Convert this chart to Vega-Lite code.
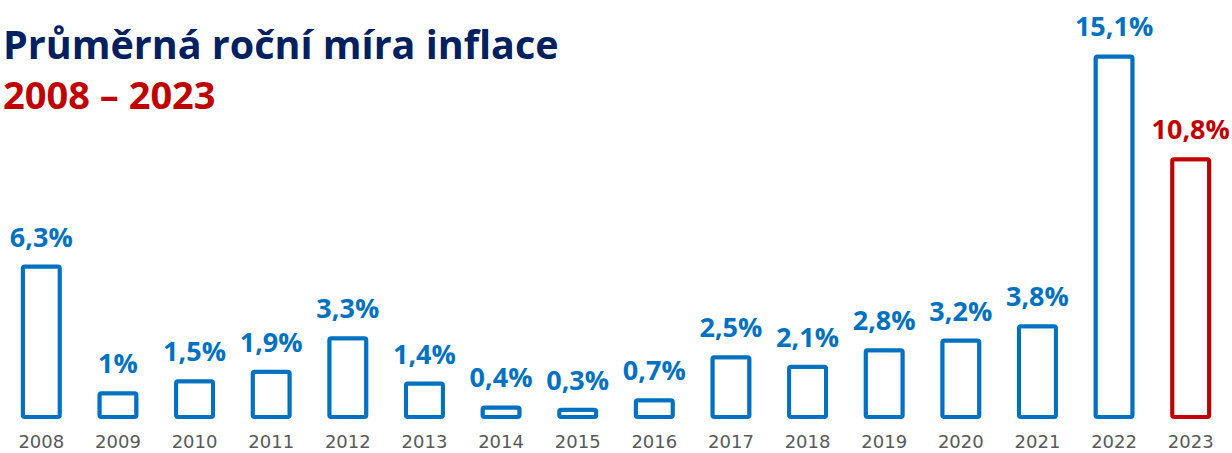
{
  "$schema": "https://vega.github.io/schema/vega-lite/v6.json",
  "width": 1226,
  "height": 382,
  "autosize": {"type": "none"},
  "padding": {"top": 35, "left": 3, "right": 3, "bottom": 36},
  "background": "white",
  "title": {
    "text": "Průměrná roční míra inflace",
    "subtitle": "2008 – 2023",
    "anchor": "start",
    "frame": "group",
    "offset": -104,
    "dx": 0,
    "font": "Open Sans",
    "fontSize": 39.5,
    "fontWeight": "bold",
    "color": "#002060",
    "subtitleFont": "Open Sans",
    "subtitleFontSize": 38,
    "subtitleFontWeight": "bold",
    "subtitleColor": "#C00000",
    "subtitlePadding": 12
  },
  "data": {
    "values": [
      {"year": "2008", "value": 6.3},
      {"year": "2009", "value": 1.0},
      {"year": "2010", "value": 1.5},
      {"year": "2011", "value": 1.9},
      {"year": "2012", "value": 3.3},
      {"year": "2013", "value": 1.4},
      {"year": "2014", "value": 0.4},
      {"year": "2015", "value": 0.3},
      {"year": "2016", "value": 0.7},
      {"year": "2017", "value": 2.5},
      {"year": "2018", "value": 2.1},
      {"year": "2019", "value": 2.8},
      {"year": "2020", "value": 3.2},
      {"year": "2021", "value": 3.8},
      {"year": "2022", "value": 15.1},
      {"year": "2023", "value": 10.8}
    ]
  },
  "transform": [
    {"calculate": "replace(format(datum.value, '.1~f'), '.', ',') + '%'", "as": "label"}
  ],
  "encoding": {
    "x": {
      "field": "year",
      "type": "ordinal",
      "scale": {"paddingInner": 0.517, "paddingOuter": 0.2585},
      "axis": {
        "title": null,
        "labelAngle": 0,
        "domain": false,
        "ticks": false,
        "labelPadding": 16,
        "labelFont": "DejaVu Sans",
        "labelFontSize": 18,
        "labelColor": "#595959"
      }
    },
    "y": {
      "field": "value",
      "type": "quantitative",
      "scale": {"domain": [0, 16], "nice": false},
      "axis": null
    }
  },
  "layer": [
    {
      "mark": {"type": "bar", "fill": "white", "strokeWidth": 4, "cornerRadius": 2},
      "encoding": {
        "stroke": {
          "condition": {"test": "datum.year === '2023'", "value": "#C00000"},
          "value": "#0070C0"
        }
      }
    },
    {
      "mark": {"type": "text", "baseline": "alphabetic", "dy": -20, "font": "Open Sans", "fontSize": 27, "fontWeight": "bold"},
      "encoding": {
        "text": {"field": "label"},
        "color": {
          "condition": {"test": "datum.year === '2023'", "value": "#C00000"},
          "value": "#0070C0"
        }
      }
    }
  ],
  "config": {
    "view": {"stroke": null},
    "axis": {"grid": false}
  }
}
